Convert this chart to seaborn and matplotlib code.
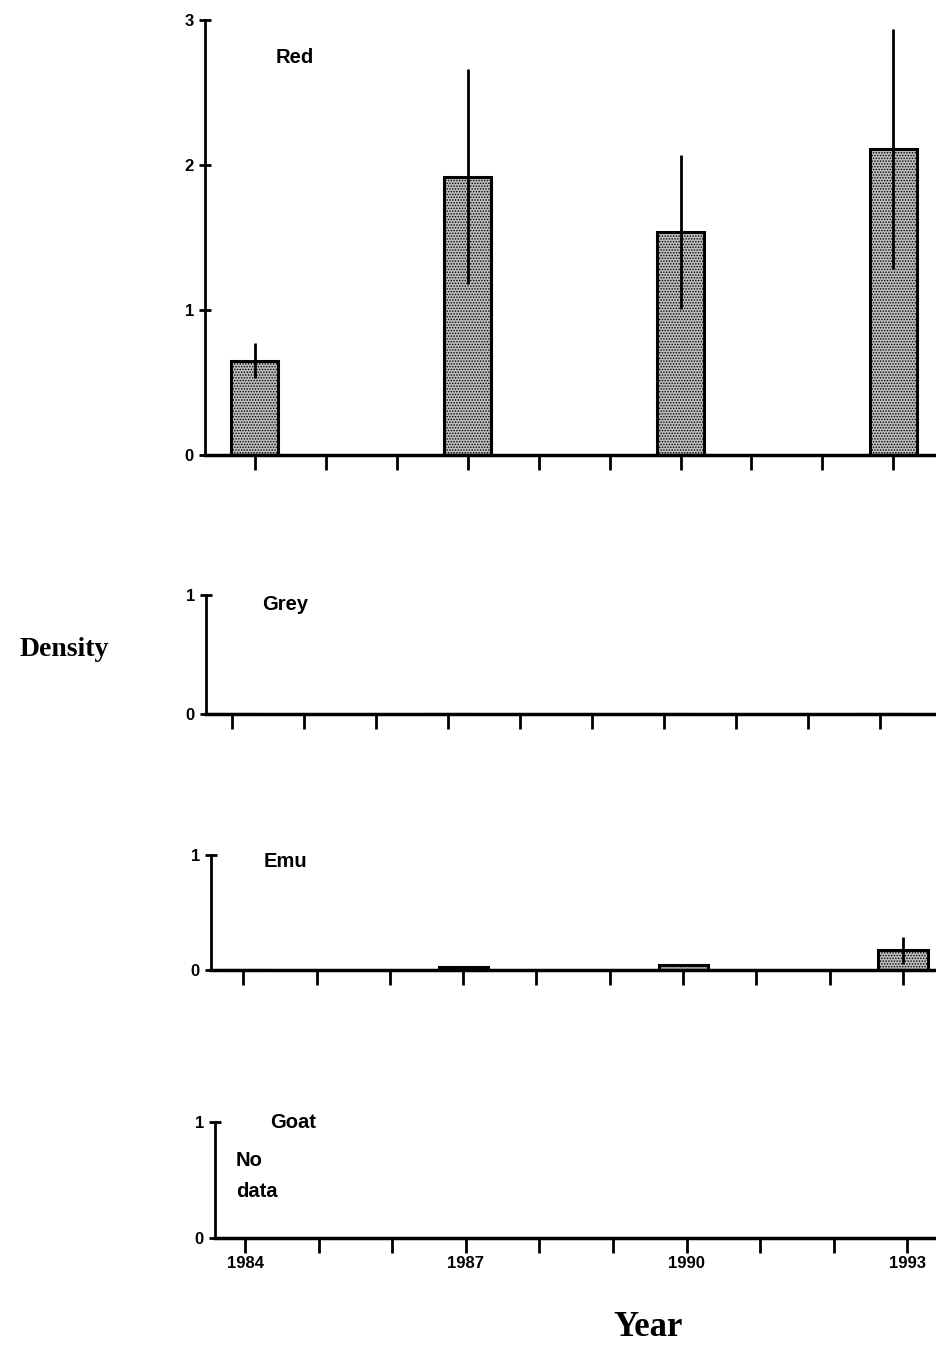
import matplotlib
matplotlib.use("Agg")
import matplotlib.pyplot as plt
import seaborn as sns
import numpy as np

# ---- data ----
years = [1984, 1987, 1990, 1993]
red_mean = [0.65, 1.92, 1.54, 2.11]
red_err = [0.12, 0.74, 0.53, 0.83]
grey_mean = [0.0, 0.0, 0.0, 0.0]
grey_err = [0.0, 0.0, 0.0, 0.0]
emu_mean = [0.0, 0.03, 0.04, 0.17]
emu_err = [0.0, 0.0, 0.0, 0.12]
tick_years = list(range(1984, 1994))
label_years = [1984, 1987, 1990, 1993]
panel_names = ["Red", "Grey", "Emu", "Goat"]

sns.set_theme(style="ticks")
plt.rcParams["font.family"] = ["Liberation Sans", "DejaVu Sans"]
plt.rcParams["text.color"] = "black"
plt.rcParams["xtick.labelcolor"] = "black"
plt.rcParams["ytick.labelcolor"] = "black"
plt.rcParams["hatch.color"] = "#3a3a3a"
plt.rcParams["hatch.linewidth"] = 0.7

W, H = 936, 1345
fig = plt.figure(figsize=(W / 100, H / 100), dpi=100)

# (left_px, top_px, bottom_px, xlim, ylim, yticks)
layout = [
    (205, 20, 455, (1983.30, 1993.60), (0, 3), [0, 1, 2, 3]),
    (206, 595, 714, (1983.64, 1993.78), (0, 1), [0, 1]),
    (211, 855, 970, (1983.56, 1993.45), (0, 1), [0, 1]),
    (215, 1122, 1238, (1983.59, 1993.39), (0, 1), [0, 1]),
]
label_pos = [(0.096, 0.913), (0.077, 0.92), (0.073, 0.94), (0.076, 1.0)]
series = [(red_mean, red_err), (grey_mean, grey_err), (emu_mean, emu_err), (None, None)]

for i, ((lp, tp, bp, xl, yl, yt), name, (m, e)) in enumerate(zip(layout, panel_names, series)):
    ax = fig.add_axes([lp / W, 1 - bp / H, (W - lp) / W, (bp - tp) / H])
    if m is not None:
        sns.barplot(x=years, y=m, native_scale=True, width=0.67 / 3, ax=ax,
                    color="#bdbdbd", edgecolor="black", linewidth=2.2,
                    errorbar=None, hatch="......", saturation=1)
        ax.errorbar(years, m, yerr=e, fmt="none", ecolor="black",
                    elinewidth=2, capsize=0, zorder=5)
    ax.set_xlim(*xl)
    ax.set_ylim(*yl)
    ax.set_yticks(yt)
    ax.set_yticklabels([str(v) for v in yt], fontweight="bold", fontsize=12)
    ax.set_xticks(tick_years)
    if i == 3:
        ax.set_xticklabels([str(y) if y in label_years else "" for y in tick_years],
                           fontweight="bold", fontsize=12)
    else:
        ax.set_xticklabels([])
    ax.tick_params(axis="x", direction="out", length=11, width=2, pad=2, colors="black")
    ax.tick_params(axis="y", direction="inout", length=8, width=2, pad=4, colors="black")
    for s in ["top", "right"]:
        ax.spines[s].set_visible(False)
    ax.spines["left"].set_linewidth(2)
    ax.spines["bottom"].set_linewidth(2.5)
    ax.spines["left"].set_color("black")
    ax.spines["bottom"].set_color("black")
    ax.set_facecolor("white")
    ax.set_xlabel("")
    ax.set_ylabel("")
    ax.text(label_pos[i][0], label_pos[i][1], name, transform=ax.transAxes,
            fontsize=14.5, fontweight="bold", ha="left", va="center", color="black")
    if i == 3:
        ax.text(0.029, 0.67, "No", transform=ax.transAxes, fontsize=14.5,
                fontweight="bold", ha="left", va="center", color="black")
        ax.text(0.029, 0.405, "data", transform=ax.transAxes, fontsize=14.5,
                fontweight="bold", ha="left", va="center", color="black")

fig.text(64 / W, 1 - 650 / H, "Density", fontsize=20, fontweight="bold",
         family=["Liberation Serif", "DejaVu Serif"], ha="center", va="center", color="black")
fig.text(648 / W, 1 - 1328 / H, "Year", fontsize=25, fontweight="bold",
         family=["Liberation Serif", "DejaVu Serif"], ha="center", va="center", color="black")

fig.savefig("out.png", dpi=100, facecolor="white")
